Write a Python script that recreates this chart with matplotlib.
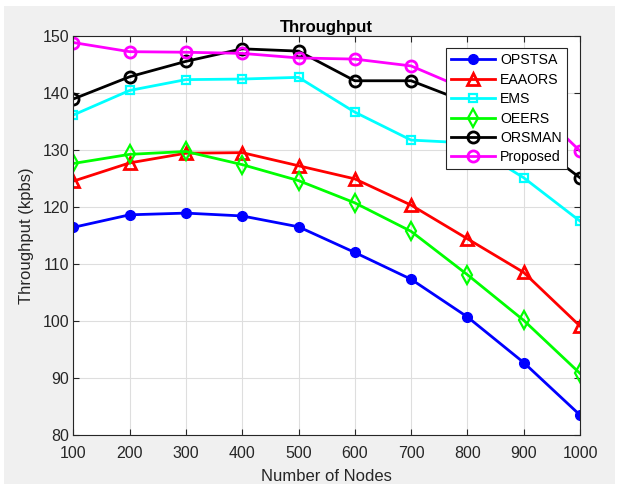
import matplotlib
matplotlib.use("Agg")
import matplotlib.pyplot as plt
from matplotlib.patches import Rectangle

plt.rcParams["font.family"] = ["Liberation Sans", "DejaVu Sans"]

# values
nodes = [100, 200, 300, 400, 500, 600, 700, 800, 900, 1000]
opstsa = [116.4, 118.6, 118.9, 118.4, 116.5, 112.0, 107.3, 100.7, 92.7, 83.5]
eaaors = [124.5, 127.7, 129.4, 129.5, 127.2, 124.9, 120.3, 114.4, 108.5, 99.1]
ems = [136.1, 140.4, 142.3, 142.4, 142.7, 136.6, 131.7, 131.2, 125.1, 117.5]
oeers = [127.6, 129.2, 129.7, 127.4, 124.6, 120.7, 115.7, 108.1, 100.1, 90.8]
orsman = [138.9, 142.8, 145.5, 147.7, 147.3, 142.1, 142.1, 138.3, 132.5, 125.1]
proposed = [148.8, 147.2, 147.1, 146.9, 146.1, 145.9, 144.7, 140.5, 139.3, 129.8]

yticks = [80, 90, 100, 110, 120, 130, 140, 150]

fig = plt.figure(figsize=(6.19, 4.84), dpi=100)
fig.patch.set_facecolor("white")
# gray MATLAB-style panel behind the axes
panel = Rectangle((4 / 619, 0), 611 / 619, 478 / 484,
                  transform=fig.transFigure, facecolor="#f0f0f0",
                  edgecolor="none", zorder=-10)
fig.add_artist(panel)

ax = fig.add_axes([73.3 / 619, 49 / 484, 506.7 / 619, 399.3 / 484])
ax.set_facecolor("white")

lw = 2
ax.plot(nodes, opstsa, color="#0000ff", lw=lw, marker="o", ms=7,
        mfc="#0000ff", label="OPSTSA")
ax.plot(nodes, eaaors, color="#ff0000", lw=lw, marker="^", ms=9,
        mfc="none", mew=2, label="EAAORS")
ax.plot(nodes, ems, color="#00ffff", lw=lw, marker="s", ms=6,
        mfc="none", mew=1.6, label="EMS")
ax.plot(nodes, oeers, color="#00ff00", lw=lw, marker="d", ms=9,
        mfc="none", mew=1.6, label="OEERS")
ax.plot(nodes, orsman, color="#000000", lw=lw, marker="o", ms=8,
        mfc="none", mew=2, label="ORSMAN")
ax.plot(nodes, proposed, color="#ff00ff", lw=lw, marker="o", ms=8,
        mfc="none", mew=2, label="Proposed")

ax.set_xlim(100, 1000)
ax.set_ylim(80, 150)
ax.set_xticks(nodes)
ax.set_yticks(yticks)
ax.grid(True, color="#dedede", lw=0.8)
ax.set_axisbelow(True)
ax.tick_params(direction="in", length=4, colors="#262626", labelsize=11.5,
               top=True, right=True, labeltop=False, labelright=False)
ax.tick_params(axis="x", pad=8)
ax.tick_params(axis="y", pad=3)
for s in ax.spines.values():
    s.set_color("#262626")
    s.set_linewidth(0.8)

ax.set_title("Throughput", fontsize=12, fontweight="bold", pad=3)
ax.set_xlabel("Number of Nodes", fontsize=12, color="#262626", labelpad=6)
ax.set_ylabel("Throughput (kpbs)", fontsize=12, color="#262626", labelpad=6)

leg = ax.legend(loc="upper right", bbox_to_anchor=(0.974, 0.968),
                borderaxespad=0, fancybox=False, edgecolor="#262626",
                fontsize=10.2, handlelength=3.1, handletextpad=0.35,
                labelspacing=0.38, borderpad=0.35, framealpha=1)
leg.get_frame().set_linewidth(0.8)

fig.savefig("out.png", dpi=100, facecolor=fig.get_facecolor())
